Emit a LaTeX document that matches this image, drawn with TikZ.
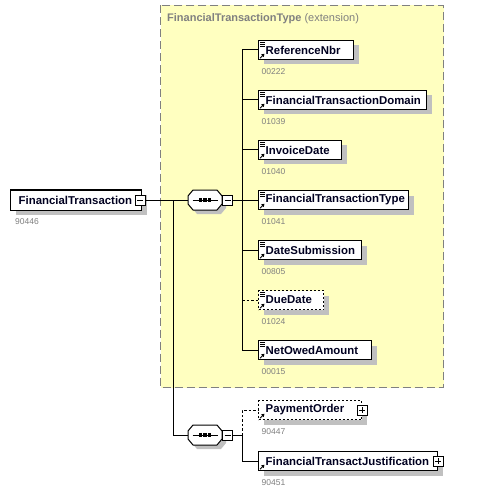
\documentclass[tikz,border=0pt]{standalone}
\usepackage{fontspec}
\setmainfont{Liberation Sans}
\usetikzlibrary{shadows,arrows.meta}
\definecolor{extyellow}{RGB}{255,255,192}
\definecolor{extborder}{RGB}{128,128,128}
\definecolor{shadowc}{RGB}{192,192,192}
\definecolor{idgray}{RGB}{128,128,128}
\definecolor{nametext}{RGB}{0,0,32}
\tikzset{
  elbox/.style={draw=black, line width=1bp, fill=white, rectangle, inner sep=0pt,
    minimum height=19bp,
    drop shadow={shadow xshift=5bp, shadow yshift=-5bp, fill=shadowc, opacity=1}},
  optbox/.style={dash pattern=on 2bp off 2bp},
  eltext/.style={inner sep=0pt, text=nametext, font=\fontsize{11.4bp}{13bp}\selectfont\bfseries},
  idtext/.style={inner sep=0pt, text=idgray, font=\fontsize{8.5bp}{10bp}\selectfont},
  conn/.style={line width=1bp, draw=black},
  optconn/.style={line width=1bp, draw=black, dash pattern=on 2.5bp off 2bp},
  minusbox/.style={draw=black, line width=0.8bp, fill=white, rectangle, inner sep=0pt,
    minimum size=10bp,
    path picture={\draw[line width=0.8bp] ([xshift=2bp]path picture bounding box.west) -- ([xshift=-2bp]path picture bounding box.east);}},
  plusbox/.style={draw=black, line width=0.8bp, fill=white, rectangle, inner sep=0pt,
    minimum size=10bp,
    path picture={\draw[line width=0.8bp] ([xshift=2bp]path picture bounding box.west) -- ([xshift=-2bp]path picture bounding box.east);
                  \draw[line width=0.8bp] ([yshift=-2bp]path picture bounding box.north) -- ([yshift=2bp]path picture bounding box.south);}},
  seqnode/.style={rectangle, inner sep=0pt, minimum width=34bp, minimum height=20bp},
}
% element box: name, y, width, label, id, extra style
\newcommand{\xelem}[6]{%
  \node[elbox,#6,minimum width=#3bp,anchor=west] (#1) at (258,#2) {};
  \node[eltext,anchor=west] (#1-t) at (265.5,#2) {#4};
  \node[idtext,anchor=west] (#1-id) at (261.5,#2+22) {#5};
}
% icons: lines at top-left, arrow at bottom-left
\newcommand{\xlines}[1]{%
  \foreach \dy in {2,4,6} {\draw[line width=0.8bp] ([shift={(2,\dy)}]#1.north west) -- ++(5,0);}
}
\newcommand{\xarrow}[1]{%
  \draw[line width=0.9bp,-{Triangle[length=3bp,width=3.5bp]}] ([shift={(2,-1.8)}]#1.south west) -- ++(4.5,-4.5);
}
% sequence octagon: name, cx, cy
\newcommand{\xseq}[3]{%
  \node[seqnode] (#1) at (#2,#3) {};
  \begin{scope}[shift={(#2+4,#3+4)}]
    \fill[shadowc] (-12,-10) -- (12,-10) -- (17,-4) -- (17,4) -- (12,10) -- (-12,10) -- (-17,4) -- (-17,-4) -- cycle;
  \end{scope}
  \begin{scope}[shift={(#2,#3)}]
    \draw[line width=1bp, fill=white] (-12,-10) -- (12,-10) -- (17,-4) -- (17,4) -- (12,10) -- (-12,10) -- (-17,4) -- (-17,-4) -- cycle;
    \draw[line width=1bp] (-12.5,0) -- (12.5,0);
    \foreach \dx in {-4.5,0,4.5} {\fill (\dx-1.7,-1.7) rectangle (\dx+1.7,1.7);}
  \end{scope}
  \node[minusbox] (#1-m) at (#2+22.5,#3) {};
}
\begin{document}
\begin{tikzpicture}[x=1bp,y=-1bp]
\useasboundingbox[fill=white] (0,0) rectangle (479,494);

% extension area
\draw[fill=extyellow, draw=extborder, line width=1.2bp, dash pattern=on 8bp off 4bp] (160.5,5.5) rectangle (443.5,387.5);
\node[inner sep=0pt, anchor=west, text=idgray, font=\fontsize{11bp}{13bp}\selectfont] (title) at (167,19)
  {\textbf{FinancialTransactionType} (extension)};

% main element
\node[elbox, minimum width=131bp, minimum height=20bp, anchor=west] (main) at (10,200) {};
\node[eltext, anchor=west] (main-t) at (18.5,200) {FinancialTransaction};
\node[idtext, anchor=west] (main-id) at (15,222) {90446};
\node[minusbox] (main-m) at (140,200) {};

% sequences
\xseq{s1}{205}{200}
\xseq{s2}{205}{435}

% child elements in extension
\xelem{ref}{50}{95}{ReferenceNbr}{00222}{}
\xelem{ftd}{100}{168}{FinancialTransactionDomain}{01039}{}
\xelem{inv}{150}{83}{InvoiceDate}{01040}{}
\xelem{ftt}{200}{150}{FinancialTransactionType}{01041}{}
\xelem{ds}{250}{103}{DateSubmission}{00805}{}
\xelem{dd}{300}{65}{DueDate}{01024}{optbox}
\xelem{noa}{350}{113}{NetOwedAmount}{00015}{}
% lower elements
\xelem{po}{410}{103}{PaymentOrder}{90447}{optbox}
\xelem{ftj}{461}{179}{FinancialTransactJustification}{90451}{}

\foreach \n in {ref,ftd,inv,ftt,ds,dd,noa} {\xlines{\n}\xarrow{\n}}
\foreach \n in {po,ftj} {\xarrow{\n}}

\node[plusbox] (po-p) at (po.east) {};
\node[plusbox] (ftj-p) at (ftj.east) {};

% connectors
\coordinate (j1) at (173,200);
\coordinate (b1) at (242,200);
\coordinate (b2) at (242,435);
\draw[conn] (main-m.east) -- (s1.west);
\draw[conn] (j1) |- (s2.west);
\draw[conn] (s1-m.east) -- (b1);
\foreach \n in {ref,ftd,inv,ftt,ds,noa} {\draw[conn] (b1) |- (\n.west);}
\draw[optconn] (b1 |- dd.west) -- (dd.west);
\draw[conn] (s2-m.east) -- (b2);
\draw[optconn] (b2) |- (po.west);
\draw[conn] (b2) |- (ftj.west);
\end{tikzpicture}
\end{document}
